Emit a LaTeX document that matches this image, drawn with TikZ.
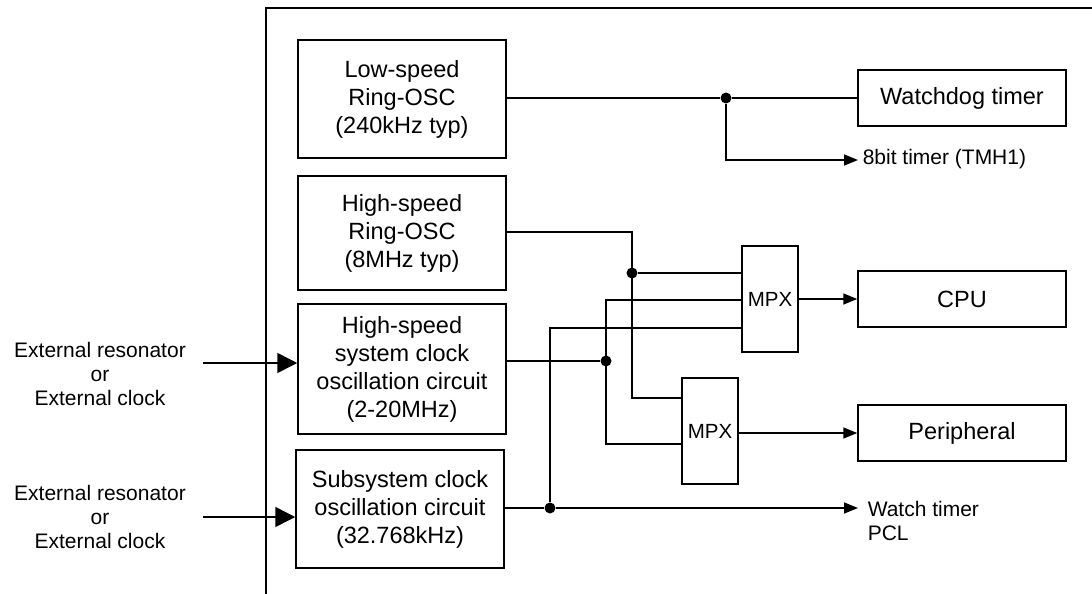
\documentclass[tikz,border=0pt]{standalone}
\usepackage{fontspec}
\setmainfont{Liberation Sans}
\usetikzlibrary{arrows.meta}
\begin{document}
\begin{tikzpicture}[x=1pt,y=-1pt,line width=1.5pt,
  blk/.style={draw,rectangle,minimum width=208pt,align=center,inner sep=0pt,
    font=\fontsize{23.5}{28}\selectfont},
  mpxbox/.style={draw,rectangle,minimum width=56pt,minimum height=106pt,inner sep=0pt,
    font=\fontsize{20.5}{24}\selectfont},
  lbl/.style={align=center,inner sep=0pt,font=\fontsize{21}{24}\selectfont},
  outl/.style={align=left,anchor=west,inner sep=0pt,font=\fontsize{21}{24}\selectfont},
  sarr/.style={-{Triangle[length=14pt,width=11pt]}},
  barr/.style={-{Triangle[length=20pt,width=20pt]}},
  dot/.style={circle,fill,inner sep=0pt,minimum size=11pt}]
\useasboundingbox (0,0) rectangle (1092,594);
% outer frame
\coordinate (fb) at (266,594);
\coordinate (ft) at (266,8);
\coordinate (fr) at (1092,8);
\draw (fb) -- (ft) -- (fr);
% blocks
\node[blk,minimum height=118pt] (lso) at (402,99) {Low-speed\\Ring-OSC\\(240kHz typ)};
\node[blk,minimum height=114pt] (hsr) at (402,233) {High-speed\\Ring-OSC\\(8MHz typ)};
\node[blk,minimum height=130pt] (hss) at (402,369) {High-speed\\system clock\\oscillation circuit\\(2-20MHz)};
\node[blk,minimum height=118pt] (sub) at (400,509) {Subsystem clock\\oscillation circuit\\(32.768kHz)};
\node[blk,minimum height=56pt] (wdt) at (962,98) {Watchdog timer};
\node[blk,minimum height=56pt] (cpu) at (962,299) {CPU};
\node[blk,minimum height=56pt] (per) at (962,433) {Peripheral};
\node[mpxbox] (m1) at (770,299) {MPX};
\node[mpxbox] (m2) at (710,431) {MPX};
% external inputs
\node[lbl] (ext1) at (100,374) {External resonator\\or\\External clock};
\node[lbl] (ext2) at (100,517) {External resonator\\or\\External clock};
\coordinate (i1) at (203,363);
\coordinate (i2) at (203,517);
\draw[barr] (i1) -- (hss.west |- i1);
\draw[barr] (i2) -- (sub.west |- i2);
% low-speed wiring
\node[dot] (d1) at (726,98) {};
\coordinate (t8c) at (726,160);
\coordinate (t8) at (858,160);
\draw (lso.east |- d1) -- (d1) -- (wdt.west |- d1);
\draw[sarr] (d1) -- (t8c) -- (t8);
\node[outl] (t8l) at (862,159) {8bit timer (TMH1)};
% high-speed ring wiring
\coordinate (a1) at (632,232);
\coordinate (a2) at (632,398);
\node[dot] (d2) at (632,273) {};
\draw (hsr.east |- a1) -- (a1) -- (a2) -- (m2.west |- a2);
\draw (d2) -- (m1.west |- d2);
% high-speed system wiring
\node[dot] (d3) at (606,361) {};
\coordinate (b1) at (606,300);
\coordinate (b2) at (606,444);
\draw (hss.east |- d3) -- (d3);
\draw (m1.west |- b1) -- (b1) -- (b2) -- (m2.west |- b2);
% subsystem wiring
\node[dot] (d4) at (550,508) {};
\coordinate (c1) at (550,328);
\coordinate (wt) at (858,508);
\draw (sub.east |- d4) -- (d4);
\draw (m1.west |- c1) -- (c1) -- (d4);
\draw[sarr] (d4) -- (wt);
\node[outl] (wtl) at (867,521) {Watch timer\\PCL};
% mpx outputs
\draw[sarr] (m1.east) -- (cpu.west);
\draw[sarr] (m2.east |- per.west) -- (per.west);
\end{tikzpicture}
\end{document}
